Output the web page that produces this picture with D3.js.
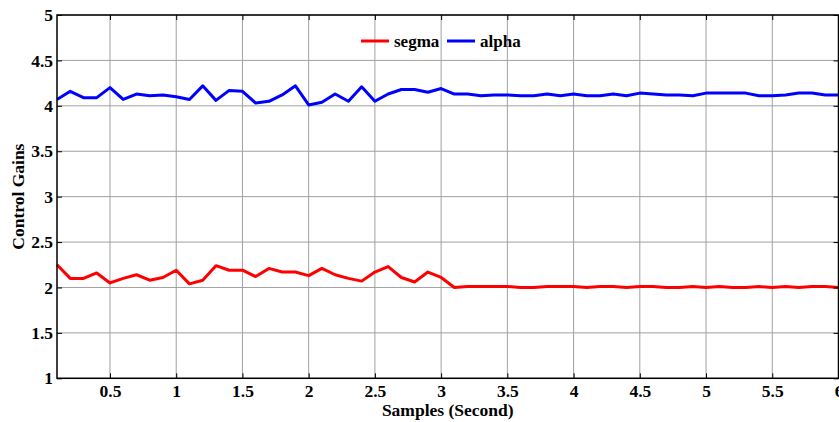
<!DOCTYPE html>
<html><head><meta charset="utf-8">
<script src="https://cdn.jsdelivr.net/npm/d3@7"></script>
<style>body{margin:0;background:#fff}svg{display:block}</style>
</head><body>
<svg id="c" width="839" height="422"></svg>
<script>
const samples = d3.range(1, 61).map(i => +(i * 0.1).toFixed(1));
const segma = [2.25,2.10,2.10,2.16,2.05,2.10,2.14,2.08,2.11,2.19,
               2.04,2.08,2.24,2.19,2.19,2.12,2.21,2.17,2.17,2.13,
               2.21,2.14,2.10,2.07,2.17,2.23,2.11,2.06,2.17,2.11,
               2.00,2.01,2.01,2.01,2.01,2.00,2.00,2.01,2.01,2.01,
               2.00,2.01,2.01,2.00,2.01,2.01,2.00,2.00,2.01,2.00,
               2.01,2.00,2.00,2.01,2.00,2.01,2.00,2.01,2.01,2.00];
const alpha = [4.07,4.16,4.09,4.09,4.20,4.07,4.13,4.11,4.12,4.10,
               4.07,4.22,4.06,4.17,4.16,4.03,4.05,4.12,4.22,4.01,
               4.04,4.13,4.05,4.21,4.05,4.13,4.18,4.18,4.15,4.19,
               4.13,4.13,4.11,4.12,4.12,4.11,4.11,4.13,4.11,4.13,
               4.11,4.11,4.13,4.11,4.14,4.13,4.12,4.12,4.11,4.14,
               4.14,4.14,4.14,4.11,4.11,4.12,4.14,4.14,4.12,4.12];
const xTicks = [0.5,1,1.5,2,2.5,3,3.5,4,4.5,5,5.5,6];
const yTicks = [1,1.5,2,2.5,3,3.5,4,4.5,5];
const seriesNames = ["segma","alpha"];
const colors = ["#ff0000","#0000ff"];

const L = 57, R = 838.5, T = 15, B = 378.3;
const FS = 17.5;
const svg = d3.select("#c");
const x = d3.scaleLinear().domain([0.1, 6]).range([L, R]);
const y = d3.scaleLinear().domain([1, 5]).range([B, T]);
const font = "'Liberation Serif','Times New Roman',serif";

// grid
svg.append("g").selectAll("line").data(xTicks).join("line")
  .attr("x1", d => x(d)).attr("x2", d => x(d)).attr("y1", T).attr("y2", B)
  .attr("stroke", "#a0a0a0").attr("stroke-width", 1);
svg.append("g").selectAll("line").data(yTicks).join("line")
  .attr("x1", L).attr("x2", R).attr("y1", d => y(d)).attr("y2", d => y(d))
  .attr("stroke", "#a0a0a0").attr("stroke-width", 1);

// lines
const line = d3.line().x((d, i) => x(samples[i])).y(d => y(d));
[segma, alpha].forEach((s, k) => {
  svg.append("path").datum(s).attr("d", line).attr("fill", "none")
    .attr("stroke", colors[k]).attr("stroke-width", 3).attr("stroke-linejoin", "round");
});

// axes
const ax = d3.axisBottom(x).tickValues(xTicks).tickSize(-5).tickPadding(6).tickFormat(d3.format("~g"));
const ay = d3.axisLeft(y).tickValues(yTicks).tickSize(-5).tickPadding(4).tickFormat(d3.format("~g"));
const gx = svg.append("g").attr("transform", `translate(0,${B})`).call(ax);
const gy = svg.append("g").attr("transform", `translate(${L},0)`).call(ay);
const gxt = svg.append("g").attr("transform", `translate(0,${T})`).call(d3.axisTop(x).tickValues(xTicks).tickSize(-5).tickFormat(""));
const gyr = svg.append("g").attr("transform", `translate(${R},0)`).call(d3.axisRight(y).tickValues(yTicks).tickSize(-5).tickFormat(""));
[gx, gy, gxt, gyr].forEach(g => {
  g.select(".domain").remove();
  g.selectAll(".tick line").attr("stroke", "#000").attr("stroke-width", 1);
  g.selectAll("text").attr("font-family", font).attr("font-weight", "bold").attr("font-size", FS).attr("fill", "#000");
});
svg.append("rect").attr("x", L).attr("y", T).attr("width", R - L).attr("height", B - T)
  .attr("fill", "none").attr("stroke", "#000").attr("stroke-width", 1.5);

// labels
svg.append("text").attr("x", (L + R) / 2).attr("y", 416).attr("text-anchor", "middle")
  .attr("font-family", font).attr("font-weight", "bold").attr("font-size", FS).text("Samples (Second)");
svg.append("text").attr("transform", `translate(24,${(T + B) / 2}) rotate(-90)`).attr("text-anchor", "middle")
  .attr("font-family", font).attr("font-weight", "bold").attr("font-size", FS).text("Control Gains");

// legend
const lg = svg.append("g");
const lx = [361, 447];
seriesNames.forEach((n, k) => {
  lg.append("line").attr("x1", lx[k]).attr("x2", lx[k] + 28).attr("y1", 41).attr("y2", 41)
    .attr("stroke", colors[k]).attr("stroke-width", 3);
  lg.append("text").attr("x", lx[k] + 33).attr("y", 47).attr("font-family", font)
    .attr("font-weight", "bold").attr("font-size", 17).text(n);
});
</script>
</body></html>
